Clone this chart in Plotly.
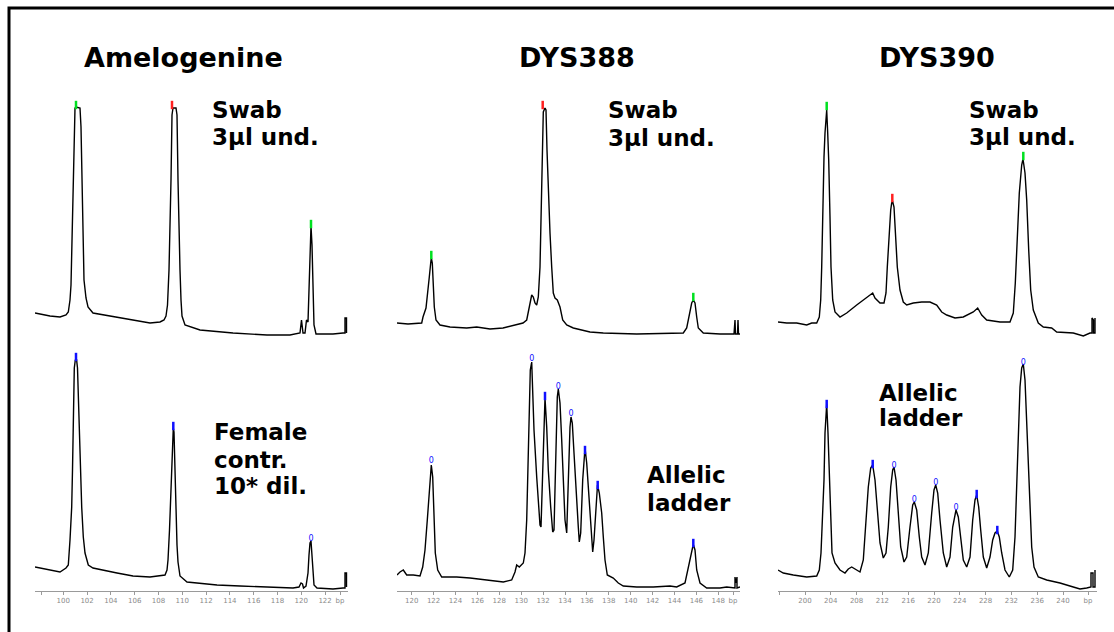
import plotly.graph_objects as go

W, H = 1114, 632

# ------------------------------------------------------------------ data
titles = ["Amelogenine", "DYS388", "DYS390"]
sample_labels = [
    ["Swab", "3µl und."],
    ["Swab", "3µl und."],
    ["Swab", "3µl und."],
    ["Female", "contr.", "10* dil."],
    ["Allelic", "ladder"],
    ["Allelic", "ladder"],
]

# size-axis tick labels (bottom row)
amel_ticks = ["100", "102", "104", "106", "108", "110", "112", "114", "116", "118", "120", "122"]
dys388_ticks = ["120", "122", "124", "126", "128", "130", "132", "134", "136", "138",
                "140", "142", "144", "146", "148"]
dys390_ticks = ["200", "204", "208", "212", "216", "220", "224", "228", "232", "236", "240"]

# Amelogenine - swab (scan, RFU)
amel_swab_x = [0, 5, 15, 25, 31, 33.3, 35, 36, 37, 38, 39, 40, 41, 45, 46, 47, 48, 49, 51, 53, 58,
               75, 95, 115, 125, 129, 131, 132.5, 134, 135, 136, 137, 138, 141, 142, 143, 144, 145,
               146, 147, 150, 158, 165, 198, 232, 255, 265, 266.5, 268, 270, 271.5, 273, 274, 275,
               276, 277, 278, 279, 281, 298, 308, 310, 310, 311.5, 311.5]
amel_swab_y = [32, 31, 29, 28, 30, 33, 45, 60, 110, 155, 215, 237, 238, 237, 218, 155, 95, 65, 47, 38, 32,
               29, 25, 22, 23, 25, 29, 40, 75, 110, 165, 230, 237, 237, 230, 165, 105, 75,
               45, 29, 20, 17, 15, 12, 10, 10, 12, 25, 12, 12, 25, 23, 55, 105,
               119, 100, 55, 20, 11, 11, 12, 12, 27, 27, 12]

# Amelogenine - female control
amel_fem_x = [0, 15, 25, 31, 33.3, 35, 36.7, 37.5, 38.3, 39.3, 40.3, 41.5, 42.5, 43.5, 45, 46.7, 48.3,
              50, 53.3, 58, 82, 98, 115, 125, 130, 132, 133, 134.5, 136, 137, 137.7, 138.3, 139, 140,
              141, 142, 143, 145, 152, 165, 182, 205, 232, 258, 264, 266, 267.5, 268.5, 271, 273,
              274, 275, 276, 277, 278, 279, 282, 298, 308, 310, 310, 311.5, 311.5]
amel_fem_y = [24, 21, 19, 23, 26, 51, 84, 121, 171, 223, 231, 232, 223, 186, 124, 84, 54,
              38, 26, 23, 18, 15, 14, 15, 16, 21, 31, 61, 101, 136, 156, 163, 159, 121,
              76, 46, 29, 15, 9, 8, 6, 5, 4, 3, 4, 8, 7, 3, 5, 18,
              36, 48, 50, 36, 16, 6, 3, 2, 3, 3, 18, 18, 4]

# DYS388 - swab
d388_swab_x = [0, 11, 24.7, 26, 29, 31.3, 32.3, 33.7, 34.3, 35.3, 36.3, 37.3, 39, 43, 53, 69.7, 79.7,
               93, 106, 119.7, 126, 129.7, 132.3, 134.7, 136.3, 138, 139.7, 141.3, 143, 144.3,
               145.3, 146.3, 148, 149, 150, 151.3, 153, 154.7, 156.3, 158, 160.3, 163, 165.7,
               169.7, 176.3, 193, 206.3, 239.7, 273, 286.3, 289.7, 292.3, 294.7, 296.3, 298,
               299.7, 301.3, 306.3, 323, 337, 338, 338.5, 340.5, 341, 341.5, 343]
d388_swab_y = [22, 21, 22, 28, 37, 55, 68, 82, 87, 82, 62, 38, 25, 20, 18, 17, 18,
               16, 17, 20, 22, 25, 38, 50, 48, 42, 40, 48, 78, 128,
               195, 233, 237, 235, 195, 155, 112, 78, 52, 47, 45, 38, 25,
               20, 17, 13, 12, 11, 12, 12, 17, 32, 42, 45, 42,
               28, 17, 12, 11, 11, 25, 11, 11, 25, 11, 11]

# DYS388 - allelic ladder
d388_lad_x = [0, 3, 6.3, 9.7, 16.3, 23, 25.7, 28, 30.3, 32.3, 33.7, 34.3, 35.7, 37, 38.3, 40.7, 44.7,
              53, 59.7, 73, 89.7, 106.3, 114.7, 118, 119.7, 122.3, 126.3, 128, 129.7, 131.3, 132.3,
              133.3, 134.7, 135.7, 137, 139.7, 141.3, 143, 144, 145.7, 147, 148, 149.7, 151.3,
              153.7, 155.7, 157, 159, 160.3, 161.3, 163, 164.7, 166.3, 168, 169.7, 171.3, 173,
              174, 175.3, 177, 179, 181.3, 182.3, 183.7, 185.7, 187.3, 188, 189.7, 191.3, 193,
              194.7, 195.7, 197, 199, 200.5, 202.3, 204.7, 206.3, 208, 210.3, 216.3, 221.3,
              226.3, 239.7, 256.3, 273, 279.7, 288, 291.3, 293.7, 295.7, 296.5, 298, 299.7, 303,
              309.7, 323, 329.7, 336.3, 338, 338, 339, 340, 340, 343]
d388_lad_y = [16, 19, 21, 16, 16, 15, 24, 41, 71, 98, 121, 126, 114, 71, 38, 21, 14,
              14, 14, 13, 11, 9, 11, 19, 26, 24, 28, 38, 71, 131, 171,
              221, 229, 204, 161, 114, 84, 66, 64, 131, 178, 193, 164, 121,
              84, 59, 61, 138, 194, 202, 188, 151, 104, 71, 58, 121, 164,
              174, 168, 138, 98, 64, 49, 58, 111, 141, 143, 128, 104, 71,
              44, 39, 51, 91, 106, 98, 78, 54, 31, 16, 13, 8,
              5, 4, 4, 5, 4, 8, 24, 38, 44, 46, 41, 21, 8,
              3, 3, 4, 3, 3, 14, 8, 14, 3, 4]

# DYS390 - swab
d390_swab_x = [0, 8.7, 18.7, 28.7, 33.7, 38.7, 41.3, 42.7, 43.7, 44.7, 46, 47, 48, 48.7, 49.7, 50.7,
               52, 53, 54.7, 57, 62, 68.7, 78.7, 88.7, 94.7, 97, 102, 106, 108, 109.3, 111, 112.7,
               113.7, 114.5, 116, 117.3, 119.3, 122, 125.3, 128.7, 135.3, 143.7, 152, 158.7,
               163.7, 168.7, 177, 185.3, 195.3, 199.7, 203.7, 208.7, 222, 232, 235.3, 237.3,
               239.3, 241.3, 243.7, 245, 247, 248.7, 250.7, 252.7, 255.3, 260.3, 265.3, 273.7,
               278.7, 295.3, 305.3, 312, 314, 314, 315.5, 315.5, 317, 317]
d390_swab_y = [23, 22, 22, 20, 22, 22, 28, 45, 78, 132, 188, 212, 232, 235, 212, 185,
               128, 78, 45, 33, 28, 32, 40, 47, 52, 47, 42, 42, 52, 78, 112, 135,
               142, 144, 138, 112, 78, 55, 43, 40, 42, 43, 43, 40,
               33, 30, 27, 28, 33, 37, 30, 25, 23, 23, 32, 62,
               112, 152, 180, 186, 172, 145, 95, 55, 35, 22, 18, 17,
               13, 12, 9, 12, 12, 27, 25, 12, 12, 27]

# DYS390 - allelic ladder
d390_lad_x = [0, 5.3, 15.3, 28.7, 38.7, 41.3, 43, 44.3, 46, 47, 48, 48.7, 50, 51.3, 52.7, 54, 57, 62,
              67, 70.3, 73.7, 77, 82, 85.3, 88, 90.3, 92.7, 94.7, 97, 99.3, 102, 105.3, 108, 110.3,
              112.7, 114.7, 116, 118, 120.3, 122.7, 126, 128.7, 132, 134.7, 136.3, 138.7, 141.3,
              143.7, 147, 150.3, 153.7, 156, 157.7, 159.7, 162, 165.3, 168.7, 172, 174.7, 177,
              178, 180.3, 182.7, 185.3, 188.7, 192, 194.7, 197, 198.7, 200.7, 202.7, 205.3,
              208.7, 212, 214.7, 217, 219.3, 221.3, 223.7, 227, 231.3, 234.7, 237, 238.7, 240.3,
              242, 243.7, 245.3, 247, 248.7, 250.3, 252, 253.7, 256, 260.3, 268.7, 282, 295.3,
              302, 308.7, 312, 313, 313, 315, 315, 317, 317]
d390_lad_y = [21, 18, 16, 14, 15, 21, 38, 71, 111, 158, 181, 187, 158, 111, 64, 38, 28, 21,
              18, 22, 24, 22, 19, 31, 71, 104, 123, 126, 111, 78, 48, 33, 38, 64,
              104, 121, 124, 111, 78, 44, 29, 34, 64, 86, 89, 81, 54,
              34, 26, 38, 78, 101, 106, 98, 71, 38, 24, 34, 64, 78,
              81, 74, 51, 31, 24, 34, 71, 91, 96, 84, 61, 34,
              23, 34, 51, 58, 60, 54, 38, 21, 14, 21, 54, 104, 161,
              204, 223, 227, 211, 171, 121, 78, 44, 24, 14, 11, 8, 4,
              2, 3, 4, 4, 18, 18, 4, 4, 21]

# peak calls: x, y, kind ("bar" or "o"), colour name
amel_swab_calls = ([41, 137, 276], [240, 240, 121], ["bar", "bar", "bar"], ["green", "red", "green"])
amel_fem_calls = ([41, 138.3, 276], [234, 165, 52], ["bar", "bar", "o"], ["blue", "blue", "blue"])
d388_swab_calls = ([34.3, 145.7, 296.3], [90, 240, 48], ["bar", "bar", "bar"], ["green", "red", "green"])
d388_lad_calls = ([34.3, 134.7, 148, 161.3, 174, 188, 200.7, 296.3],
                  [130, 232, 195, 204, 177, 141, 106, 48],
                  ["o", "o", "bar", "o", "o", "bar", "bar", "bar"],
                  ["blue"] * 8)
d390_swab_calls = ([48.7, 114.3, 245.3], [239, 147, 189], ["bar", "bar", "bar"], ["green", "red", "green"])
d390_lad_calls = ([48.7, 94.7, 116, 136.3, 157.7, 178, 198.7, 219.3, 245.3],
                  [187, 127, 125, 91, 108, 83, 97, 61, 228],
                  ["bar", "bar", "o", "o", "o", "o", "bar", "bar", "o"],
                  ["blue"] * 9)

traces = [
    (amel_swab_x, amel_swab_y, amel_swab_calls),
    (d388_swab_x, d388_swab_y, d388_swab_calls),
    (d390_swab_x, d390_swab_y, d390_swab_calls),
    (amel_fem_x, amel_fem_y, amel_fem_calls),
    (d388_lad_x, d388_lad_y, d388_lad_calls),
    (d390_lad_x, d390_lad_y, d390_lad_calls),
]

# ------------------------------------------------------------------ layout geometry (pixels)
col_left = [35, 397, 778]
col_right = [348, 740, 1097]
row_zero = [345, 591]
row_top = [90, 345]
tick_cfg = [  # (unlabeled first tick, first label, spacing, "bp" position, labels)
    (6, 28.3, 23.8, 305, amel_ticks),
    (None, 14.7, 21.9, 336, dys388_ticks),
    (1.3, 27, 25.8, 310, dys390_ticks),
]
title_pos = [(183.5, 57), (577, 57), (937, 57)]
label_pos = [  # left x, cap-centre y of each line
    (210, [109.5, 137.5]),
    (606, [110.5, 138.5]),
    (967, [109.5, 137.5]),
    (212, [431.5, 459.5, 485.5]),
    (645, [474.5, 502.5]),
    (877, [393, 418]),
]
colors = {"green": "#00e020", "red": "#ff2020", "blue": "#1010ff"}
FONT = "DejaVu Sans, Verdana, sans-serif"

fig = go.Figure()
layout = dict(
    width=W, height=H, margin=dict(l=0, r=0, t=0, b=0),
    paper_bgcolor="white", plot_bgcolor="rgba(0,0,0,0)",
    showlegend=False, font=dict(family=FONT, color="black"),
)

for i, (xs, ys, calls) in enumerate(traces):
    row, col = divmod(i, 3)
    n = i + 1
    xa, ya = f"x{n}", f"y{n}"
    l, r = col_left[col], col_right[col]
    z, t = row_zero[row], row_top[row]
    xaxis = dict(domain=[l / W, r / W], range=[0, r - l], anchor=ya,
                 showgrid=False, zeroline=False, fixedrange=True)
    if row == 0:
        xaxis["visible"] = False
    else:
        first, t0, dt, bp, labs = tick_cfg[col]
        vals = [t0 + k * dt for k in range(len(labs))]
        text = list(labs)
        if first is not None:
            vals = [first] + vals
            text = [""] + text
        vals.append(bp)
        text.append("bp")
        xaxis.update(showline=True, linecolor="#9a9a9a", linewidth=1,
                     ticks="outside", ticklen=3, tickwidth=1, tickcolor="#9a9a9a",
                     tickmode="array", tickvals=vals, ticktext=text,
                     tickfont=dict(size=7, color="#8a8a8a", family=FONT))
    layout[f"xaxis{n}"] = xaxis
    layout[f"yaxis{n}"] = dict(domain=[1 - z / H, 1 - t / H], range=[0, z - t], anchor=xa,
                               visible=False, fixedrange=True)

    fig.add_trace(go.Scatter(x=xs, y=ys, mode="lines", xaxis=xa, yaxis=ya,
                             line=dict(color="black", width=1.4), hoverinfo="skip"))
    cx, cy, kinds, cols = calls
    bx = [x for x, k in zip(cx, kinds) if k == "bar"]
    by = [y for y, k in zip(cy, kinds) if k == "bar"]
    bc = [colors[c] for c, k in zip(cols, kinds) if k == "bar"]
    if bx:
        fig.add_trace(go.Scatter(x=bx, y=by, mode="markers", xaxis=xa, yaxis=ya,
                                 marker=dict(symbol="line-ns", size=6, line=dict(width=2.5, color=bc)),
                                 hoverinfo="skip"))
    ox = [x for x, k in zip(cx, kinds) if k == "o"]
    oy = [y for y, k in zip(cy, kinds) if k == "o"]
    if ox:
        fig.add_trace(go.Scatter(x=ox, y=oy, mode="text", text=["0"] * len(ox), xaxis=xa, yaxis=ya,
                                 textfont=dict(size=8, color=colors["blue"], family=FONT),
                                 hoverinfo="skip"))

annotations = []
for name, (px, py) in zip(titles, title_pos):
    annotations.append(dict(text=f"<b>{name}</b>", x=px / W, y=1 - py / H, xref="paper", yref="paper",
                            xanchor="center", yanchor="middle", showarrow=False,
                            font=dict(size=27, family=FONT, color="black")))
for lines, (lx, ys) in zip(sample_labels, label_pos):
    for txt, py in zip(lines, ys):
        annotations.append(dict(text=f"<b>{txt}</b>", x=lx / W, y=1 - py / H, xref="paper", yref="paper",
                                xanchor="left", yanchor="middle", showarrow=False,
                                font=dict(size=23, family=FONT, color="black")))
layout["annotations"] = annotations
layout["shapes"] = [dict(type="rect", xref="paper", yref="paper",
                         x0=9 / W, y0=1 - 8 / H, x1=1.1, y1=-0.1,
                         line=dict(color="black", width=3))]
fig.update_layout(**layout)
fig.write_html("out.html", config={"displayModeBar": False},
               post_script="document.body.style.margin='0';document.body.style.overflow='hidden';")
